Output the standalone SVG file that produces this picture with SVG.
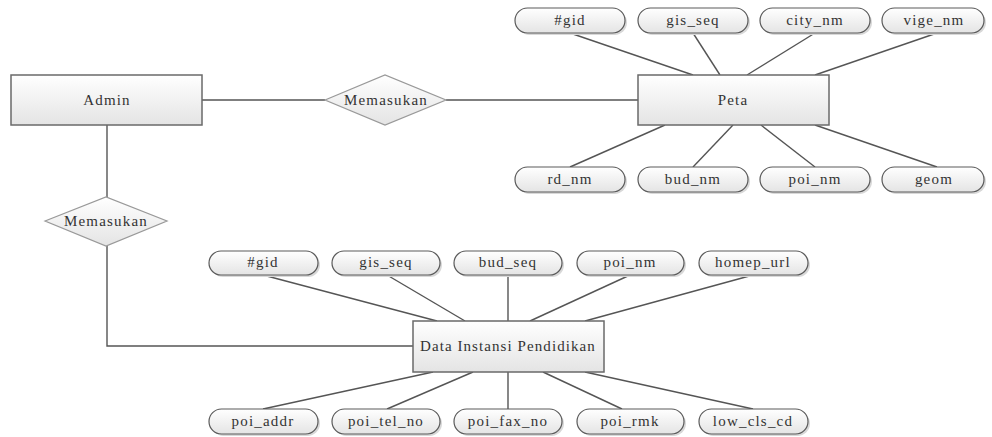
<svg xmlns="http://www.w3.org/2000/svg" width="992" height="437" viewBox="0 0 992 437" font-family="'Liberation Serif', 'DejaVu Serif', serif">
<defs>
<linearGradient id="g" x1="0" y1="0" x2="0" y2="1">
<stop offset="0" stop-color="#ffffff"/>
<stop offset="1" stop-color="#e4e4e4"/>
</linearGradient>
</defs>
<style>
.ent{fill:url(#g);stroke:#6a6a6a;stroke-width:1.5}
.rel{fill:url(#g);stroke:#999;stroke-width:1.2}
.att{fill:url(#g);stroke:#5a5a5a;stroke-width:1.2}
.sh{fill:#d8d8d8;stroke:none}
text{font-family:'Liberation Serif','DejaVu Serif',serif}
.t{font-size:15px;letter-spacing:1.2px;fill:#333;text-anchor:middle}
.c line,.c polyline{stroke:#555;stroke-width:1.4;fill:none}
</style>
<rect width="992" height="437" fill="#fff"/>
<g class="c" id="connectors">
<line x1="202" y1="100" x2="325" y2="100"/>
<line x1="446" y1="100" x2="638" y2="100"/>
<line x1="107" y1="125" x2="107" y2="197"/>
<polyline points="107,246 107,346 413,346"/>
<line x1="570" y1="33" x2="693" y2="75"/>
<line x1="693" y1="33" x2="720" y2="75"/>
<line x1="815" y1="33" x2="747" y2="75"/>
<line x1="937" y1="33" x2="815" y2="75"/>
<line x1="570" y1="167" x2="665" y2="125"/>
<line x1="693" y1="167" x2="733" y2="125"/>
<line x1="815" y1="167" x2="761" y2="125"/>
<line x1="937" y1="167" x2="815" y2="125"/>
<line x1="263" y1="275" x2="437" y2="321"/>
<line x1="387" y1="275" x2="465" y2="321"/>
<line x1="508" y1="275" x2="508" y2="321"/>
<line x1="630" y1="275" x2="530" y2="321"/>
<line x1="753" y1="275" x2="585" y2="321"/>
<line x1="263" y1="409" x2="433" y2="372"/>
<line x1="387" y1="409" x2="473" y2="372"/>
<line x1="508" y1="409" x2="508" y2="372"/>
<line x1="622" y1="409" x2="543" y2="372"/>
<line x1="753" y1="409" x2="585" y2="372"/>
</g>
<g id="admin"><rect class="ent" x="11" y="75" width="191" height="50"/><text class="t" x="107" y="105">Admin</text></g>
<g id="rel1"><polygon class="rel" points="325,100 385,75 446,100 385,125"/><text class="t" x="386" y="105">Memasukan</text></g>
<g id="peta"><rect class="ent" x="638" y="75" width="191" height="50"/><text class="t" x="733" y="105">Peta</text></g>
<g id="rel2"><polygon class="rel" points="45,221 106,197 167,221 106,246"/><text class="t" x="106" y="226">Memasukan</text></g>
<g id="dip"><rect class="ent" x="413" y="321" width="191" height="51"/><text class="t" x="508" y="351" textLength="176" lengthAdjust="spacing">Data Instansi Pendidikan</text></g>

<g id="p_gid"><rect class="sh" x="517" y="10" width="110" height="25" rx="12.5"/><rect class="att" x="515" y="8" width="110" height="25" rx="12.5"/><text class="t" x="570" y="25">#gid</text></g>
<g id="p_gis_seq"><rect class="sh" x="640" y="10" width="110" height="25" rx="12.5"/><rect class="att" x="638" y="8" width="110" height="25" rx="12.5"/><text class="t" x="693" y="25">gis_seq</text></g>
<g id="p_city_nm"><rect class="sh" x="762" y="10" width="110" height="25" rx="12.5"/><rect class="att" x="760" y="8" width="110" height="25" rx="12.5"/><text class="t" x="815" y="25">city_nm</text></g>
<g id="p_vige_nm"><rect class="sh" x="884" y="10" width="102" height="25" rx="12.5"/><rect class="att" x="882" y="8" width="102" height="25" rx="12.5"/><text class="t" x="934" y="25">vige_nm</text></g>
<g id="p_rd_nm"><rect class="sh" x="517" y="169" width="110" height="25" rx="12.5"/><rect class="att" x="515" y="167" width="110" height="25" rx="12.5"/><text class="t" x="570" y="184">rd_nm</text></g>
<g id="p_bud_nm"><rect class="sh" x="640" y="169" width="110" height="25" rx="12.5"/><rect class="att" x="638" y="167" width="110" height="25" rx="12.5"/><text class="t" x="693" y="184">bud_nm</text></g>
<g id="p_poi_nm"><rect class="sh" x="762" y="169" width="110" height="25" rx="12.5"/><rect class="att" x="760" y="167" width="110" height="25" rx="12.5"/><text class="t" x="815" y="184">poi_nm</text></g>
<g id="p_geom"><rect class="sh" x="884" y="169" width="102" height="25" rx="12.5"/><rect class="att" x="882" y="167" width="102" height="25" rx="12.5"/><text class="t" x="934" y="184">geom</text></g>

<g id="d_gid"><rect class="sh" x="211" y="253" width="109" height="24" rx="12"/><rect class="att" x="209" y="251" width="109" height="24" rx="12"/><text class="t" x="263" y="267">#gid</text></g>
<g id="d_gis_seq"><rect class="sh" x="334" y="253" width="108" height="24" rx="12"/><rect class="att" x="332" y="251" width="108" height="24" rx="12"/><text class="t" x="386" y="267">gis_seq</text></g>
<g id="d_bud_seq"><rect class="sh" x="456" y="253" width="108" height="24" rx="12"/><rect class="att" x="454" y="251" width="108" height="24" rx="12"/><text class="t" x="508" y="267">bud_seq</text></g>
<g id="d_poi_nm"><rect class="sh" x="579" y="253" width="107" height="24" rx="12"/><rect class="att" x="577" y="251" width="107" height="24" rx="12"/><text class="t" x="630" y="267">poi_nm</text></g>
<g id="d_homep_url"><rect class="sh" x="701" y="253" width="109" height="24" rx="12"/><rect class="att" x="699" y="251" width="109" height="24" rx="12"/><text class="t" x="753" y="267">homep_url</text></g>
<g id="d_poi_addr"><rect class="sh" x="211" y="411" width="109" height="25" rx="12.5"/><rect class="att" x="209" y="409" width="109" height="25" rx="12.5"/><text class="t" x="263" y="426">poi_addr</text></g>
<g id="d_poi_tel_no"><rect class="sh" x="334" y="411" width="108" height="25" rx="12.5"/><rect class="att" x="332" y="409" width="108" height="25" rx="12.5"/><text class="t" x="386" y="426">poi_tel_no</text></g>
<g id="d_poi_fax_no"><rect class="sh" x="456" y="411" width="108" height="25" rx="12.5"/><rect class="att" x="454" y="409" width="108" height="25" rx="12.5"/><text class="t" x="508" y="426">poi_fax_no</text></g>
<g id="d_poi_rmk"><rect class="sh" x="579" y="411" width="107" height="25" rx="12.5"/><rect class="att" x="577" y="409" width="107" height="25" rx="12.5"/><text class="t" x="630" y="426">poi_rmk</text></g>
<g id="d_low_cls_cd"><rect class="sh" x="701" y="411" width="109" height="25" rx="12.5"/><rect class="att" x="699" y="409" width="109" height="25" rx="12.5"/><text class="t" x="753" y="426">low_cls_cd</text></g>
</svg>
